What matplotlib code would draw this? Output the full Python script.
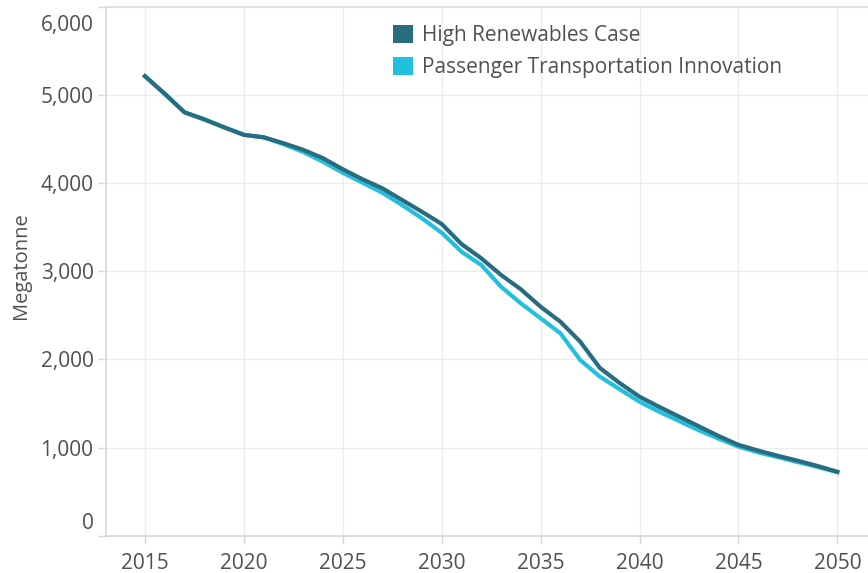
import matplotlib
matplotlib.use("Agg")
import matplotlib.pyplot as plt
from matplotlib.patches import Patch
from matplotlib.transforms import ScaledTranslation

plt.rcParams['font.family'] = ['Open Sans', 'DejaVu Sans']

years = list(range(2015, 2051))
high_renewables = [5210, 5010, 4800, 4720, 4630, 4545, 4517, 4450, 4375, 4280,
                   4155, 4041, 3939, 3806, 3673, 3534, 3307, 3145, 2956, 2794,
                   2596, 2426, 2200, 1901, 1730, 1576, 1460, 1350, 1240, 1130,
                   1030, 965, 905, 850, 790, 725]
passenger_innov = [5210, 5010, 4800, 4720, 4630, 4545, 4517, 4440, 4350, 4240,
                   4115, 4002, 3889, 3749, 3599, 3435, 3220, 3069, 2823, 2635,
                   2465, 2295, 1992, 1803, 1660, 1519, 1405, 1300, 1195, 1100,
                   1010, 945, 890, 835, 780, 720]
series_names = ["High Renewables Case", "Passenger Transportation Innovation"]
y_ticks = [0, 1000, 2000, 3000, 4000, 5000, 6000]
x_ticks = [2015, 2020, 2025, 2030, 2035, 2040, 2045, 2050]

dark = '#296b7f'
cyan = '#22c0de'
txt = '#505050'

W, H = 868, 573
fig = plt.figure(figsize=(W / 100, H / 100), dpi=100)
ax = fig.add_axes([106 / W, (H - 535.7) / H, (W - 106) / W, (535.7 - 6.5) / H])

ax.plot(years, passenger_innov, color=cyan, lw=3.0, solid_joinstyle='round', zorder=3)
ax.plot(years, high_renewables, color=dark, lw=3.0, solid_joinstyle='round', zorder=4)

ax.set_xlim(2013.03, 2051.55)
ax.set_ylim(0, 6000)
ax.set_xticks(x_ticks)
ax.set_xticklabels([str(x) for x in x_ticks])
ax.set_yticks(y_ticks)
ax.set_yticklabels([f"{v:,}" for v in y_ticks])

ax.grid(True, color='#ececec', lw=1.0, zorder=0)
ax.set_axisbelow(True)
for s in ['top', 'right']:
    ax.spines[s].set_visible(False)
for s in ['left', 'bottom']:
    ax.spines[s].set_color('#d6d6d6')
    ax.spines[s].set_linewidth(1.2)

ax.tick_params(axis='x', length=5.5, width=1, color='#d6d6d6', pad=7,
               labelsize=15, labelcolor=txt)
ax.tick_params(axis='y', length=6, width=1, color='#d6d6d6', pad=3,
               labelsize=15, labelcolor=txt)
ylabels = ax.get_yticklabels()
ylabels[0].set_va('bottom')
ylabels[0].set_transform(ylabels[0].get_transform() + ScaledTranslation(0, 1 / 72, fig.dpi_scale_trans))
ylabels[-1].set_va('top')
ylabels[-1].set_transform(ylabels[-1].get_transform() + ScaledTranslation(0, -6 / 72, fig.dpi_scale_trans))

# top gridline extends into tick
ax.axhline(6000, color='#dedede', lw=1.2, zorder=1, clip_on=False)

fig.text(21 / W, 1 - 266 / H, "Megatonne", rotation=90, ha='center', va='center',
         fontsize=14.5, color=txt)

handles = [Patch(facecolor=dark, edgecolor='none'), Patch(facecolor=cyan, edgecolor='none')]
fig.legend(handles, series_names, loc='upper left',
           bbox_to_anchor=(393 / W, 1 - 25 / H), frameon=False, fontsize=15,
           handlelength=0.97, handleheight=0.97, handletextpad=0.42,
           labelspacing=0.5, borderpad=0, borderaxespad=0, labelcolor=txt)

fig.savefig("out.png", dpi=100)
